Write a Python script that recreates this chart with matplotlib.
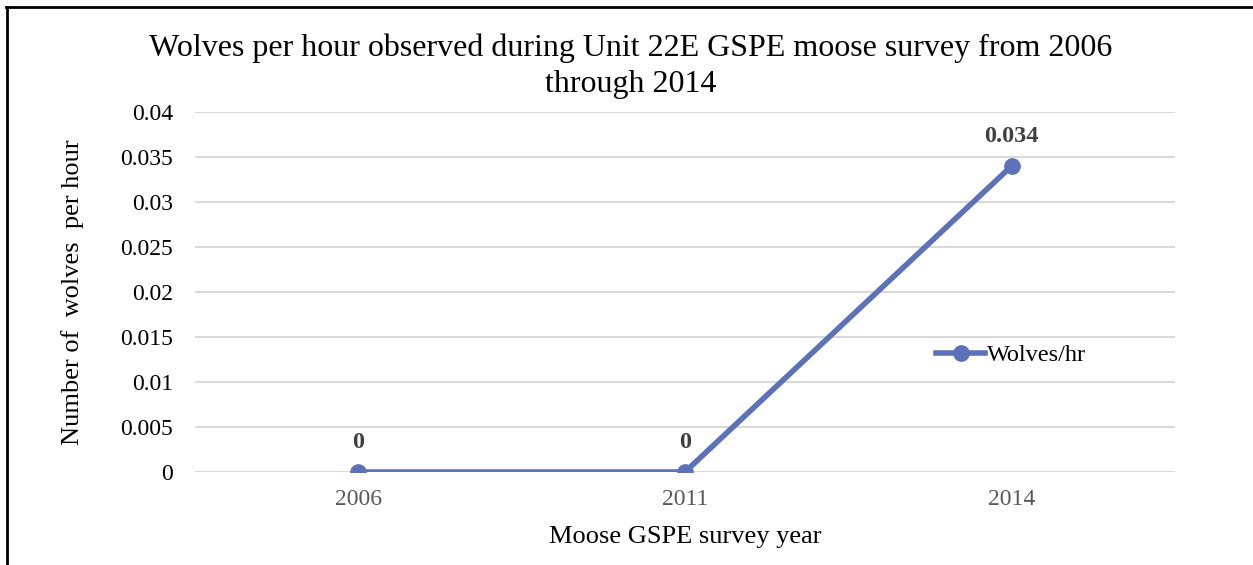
import matplotlib.pyplot as plt
from matplotlib.lines import Line2D

years = ['2006', '2011', '2014']
wolves_per_hr = [0, 0, 0.034]
value_labels = ['0', '0', '0.034']
y_ticks = [0, 0.005, 0.01, 0.015, 0.02, 0.025, 0.03, 0.035, 0.04]
y_tick_labels = ['0', '0.005', '0.01', '0.015', '0.02', '0.025', '0.03', '0.035', '0.04']

plt.rcParams['font.family'] = ['Liberation Serif', 'DejaVu Serif']

fig = plt.figure(figsize=(12.53, 5.65), dpi=100)
ax = fig.add_axes([195 / 1253, 93 / 565, 980 / 1253, 360 / 565])

line_color = '#5b72b8'
x = range(len(years))
ax.plot(x, wolves_per_hr, '-o', color=line_color, lw=4, markersize=11,
        label='Wolves/hr', zorder=3)

for i, (v, lab) in enumerate(zip(wolves_per_hr, value_labels)):
    ax.annotate(lab, (i, v), xytext=(0, 14), textcoords='offset points',
                ha='center', va='bottom', fontsize=17.5, fontweight='bold',
                color='#404040')

ax.set_xlim(-0.5, 2.5)
ax.set_ylim(0, 0.04)
ax.set_xticks(list(x))
ax.set_xticklabels(years, fontsize=17, color='#595959')
ax.set_yticks(y_ticks)
ax.set_yticklabels(y_tick_labels, fontsize=17, color='black')
ax.tick_params(length=0, pad=16)
ax.tick_params(axis='x', pad=12)
ax.grid(axis='y', color='#d9d9d9', lw=1.5)
ax.set_axisbelow(True)
for s in ax.spines.values():
    s.set_visible(False)

ax.set_xlabel('Moose GSPE survey year', fontsize=19, labelpad=12)
ax.set_ylabel('Number of  wolves  per hour', fontsize=19, labelpad=26)

fig.text(631 / 1253, 1 - 66 / 565,
         'Wolves per hour observed during Unit 22E GSPE moose survey from 2006\nthrough 2014',
         ha='center', va='center', fontsize=23, linespacing=1.3)

ax.legend(loc='center left', bbox_to_anchor=(0.734, 0.325), frameon=False,
          fontsize=17.5, handlelength=2.0, handletextpad=0.1)

# frame lines
fig.add_artist(Line2D([6 / 1253, 1], [1 - 7 / 565, 1 - 7 / 565], color='black', lw=2))
fig.add_artist(Line2D([7 / 1253, 7 / 1253], [0, 1 - 7 / 565], color='black', lw=2))

fig.savefig('out.png', dpi=100)
